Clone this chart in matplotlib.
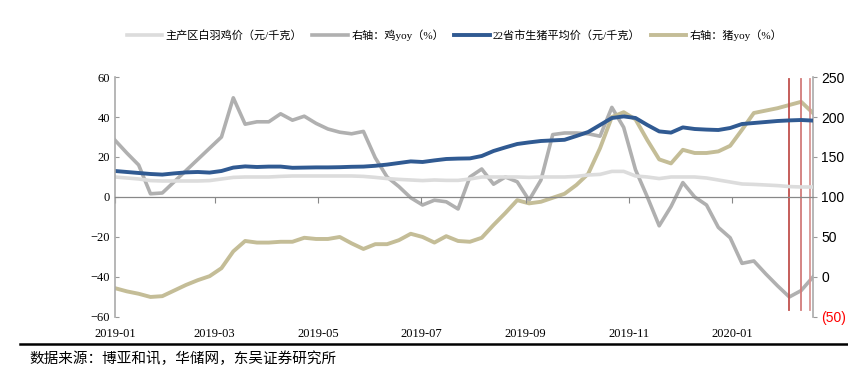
"""
Chicken / hog prices and yoy, weekly, 2019-01 to 2020-02.
"""
import numpy as np
import pandas as pd
import matplotlib
matplotlib.use("Agg")
import matplotlib.pyplot as plt

plt.rcParams["font.family"] = ["Liberation Serif", "Noto Sans CJK SC", "DejaVu Sans"]

# weekly observations
dates = pd.date_range("2019-01-01", periods=60, freq="7D")

chicken_price = [10, 9.5, 9, 8.2, 8, 8, 8, 8, 8.2, 9,
                 9.8, 10, 10, 10, 10.3, 10.5, 10.5, 10.5, 10.5, 10.5,
                 10.5, 10.3, 9.8, 9.2, 8.8, 8.5, 8.2, 8.5, 8.3, 8.3,
                 9, 10, 10, 10, 10, 9.8, 10, 10, 10, 10.3,
                 11, 11.3, 12.8, 12.8, 10.5, 10, 9.2, 10, 10, 10,
                 9.5, 8.5, 7.5, 6.5, 6.3, 6, 5.7, 5.2, 5, 5]

chicken_yoy = [171, 155, 140, 104, 105, 119, 133, 147, 161, 175,
               224, 191, 194, 194, 204, 196, 201, 192, 185, 181,
               179, 182, 149, 125, 113, 99, 90, 96, 94, 85,
               125, 135, 116, 125, 119, 96, 121, 178, 180, 180,
               179, 176, 212, 187, 134, 100, 64, 88, 118, 100,
               90, 62, 49, 17, 20, 4, -11, -25, -17, 0]

hog_price = [13, 12.5, 12, 11.5, 11.2, 11.8, 12.3, 12.5, 12.2, 13,
             14.7, 15.3, 15, 15.2, 15.2, 14.6, 14.7, 14.8, 14.8, 14.9,
             15.1, 15.2, 15.6, 16.2, 17, 17.8, 17.5, 18.3, 19, 19.2,
             19.3, 20.5, 23, 24.8, 26.5, 27.3, 28, 28.3, 28.6, 30.5,
             32.5, 36, 39.5, 40.3, 39.5, 36, 32.8, 32.2, 34.8, 34,
             33.7, 33.5, 34.5, 36.5, 37, 37.5, 38, 38.3, 38.5, 38.2]

hog_yoy = [-14, -18, -21, -25, -24, -17, -10, -4, 1, 11,
           32, 45, 43, 43, 44, 44, 49, 47.5, 47.5, 50,
           42, 35, 41, 41, 46, 54, 50, 43, 51, 45,
           44, 49, 65, 80, 96, 92, 94, 99, 104, 115,
           129, 161, 200, 206, 197, 171, 147, 142, 159, 155,
           155, 157, 164, 184, 205, 208, 211, 215, 219, 205]

marker_dates = pd.to_datetime(["2020-02-04", "2020-02-11", "2020-02-16"])
marker_colors = ["#c0504d", "#d27b79", "#d99694"]

month_ticks = pd.to_datetime(["2019-01-01", "2019-03-01", "2019-05-01", "2019-07-01",
                              "2019-09-01", "2019-11-01", "2020-01-01"])
month_labels = [d.strftime("%Y-%m") for d in month_ticks]

c_light, c_gray, c_blue, c_khaki = "#dcdcdc", "#b0b0b0", "#305a92", "#c4bd97"

fig = plt.figure(figsize=(8.48, 3.87), dpi=100)
ax = fig.add_axes([0.1356, 0.181, 0.8231, 0.620])
ax2 = ax.twinx()

l1, = ax.plot(dates, chicken_price, color=c_light, lw=2.6, label="主产区白羽鸡价（元/千克）")
l2, = ax2.plot(dates, chicken_yoy, color=c_gray, lw=2.6, label="右轴：鸡yoy（%）")
l3, = ax.plot(dates, hog_price, color=c_blue, lw=2.8, label="22省市生猪平均价（元/千克）")
l4, = ax2.plot(dates, hog_yoy, color=c_khaki, lw=2.8, label="右轴：猪yoy（%）")
ax.set_zorder(ax2.get_zorder() + 1)
ax.patch.set_visible(False)

for d, c in zip(marker_dates, marker_colors):
    ax2.axvline(d, ymin=0.03, ymax=0.99, color=c, lw=1.3, zorder=5)

ax.set_xlim(dates[0], dates[-1])
ax.set_ylim(-60, 60)
ax2.set_ylim(-50, 250)

# left axis
ax.set_yticks(np.arange(-60, 61, 20))
ax.tick_params(axis="y", direction="in", length=3, color="#999999", labelsize=9)
for s in ["top", "right"]:
    ax.spines[s].set_visible(False)
ax.spines["left"].set_color("#aaaaaa")
ax.spines["left"].set_linewidth(1.2)

# x axis line at zero, labels at bottom
ax.spines["bottom"].set_position(("data", 0))
ax.spines["bottom"].set_color("#888888")
ax.spines["bottom"].set_linewidth(0.9)
ax.set_xticks(month_ticks)
ax.tick_params(axis="x", direction="out", length=4, color="#888888", labelbottom=False)
sec = ax.secondary_xaxis("bottom")
sec.set_xticks(month_ticks, month_labels)
sec.tick_params(length=0, labelsize=9, pad=8)
sec.spines["bottom"].set_visible(False)

# right axis
ax2.set_yticks(np.arange(-50, 251, 50))
ax2.set_yticklabels(["(50)"] + [str(v) for v in range(0, 251, 50)],
                    family=["Liberation Sans"], fontsize=10)
ax2.get_yticklabels()[0].set_color("#ff0000")
ax2.tick_params(axis="y", direction="out", length=3, color="#999999", pad=3)
for s in ["top", "left", "bottom"]:
    ax2.spines[s].set_visible(False)
ax2.spines["right"].set_color("#aaaaaa")
ax2.spines["right"].set_linewidth(1.2)

fig.legend(handles=[l1, l2, l3, l4], loc="center", bbox_to_anchor=(0.536, 0.91),
           ncol=4, frameon=False, fontsize=8, handlelength=3.2,
           handletextpad=0.3, columnspacing=0.9)

fig.add_artist(plt.Line2D([0.024, 1.0], [0.111, 0.111], color="black", lw=1.8))
fig.text(0.035, 0.072, "数据来源：博亚和讯，华储网，东吴证券研究所", fontsize=10.5,
         va="center", family=["Noto Sans CJK SC"])

fig.savefig("out.png", dpi=100)
